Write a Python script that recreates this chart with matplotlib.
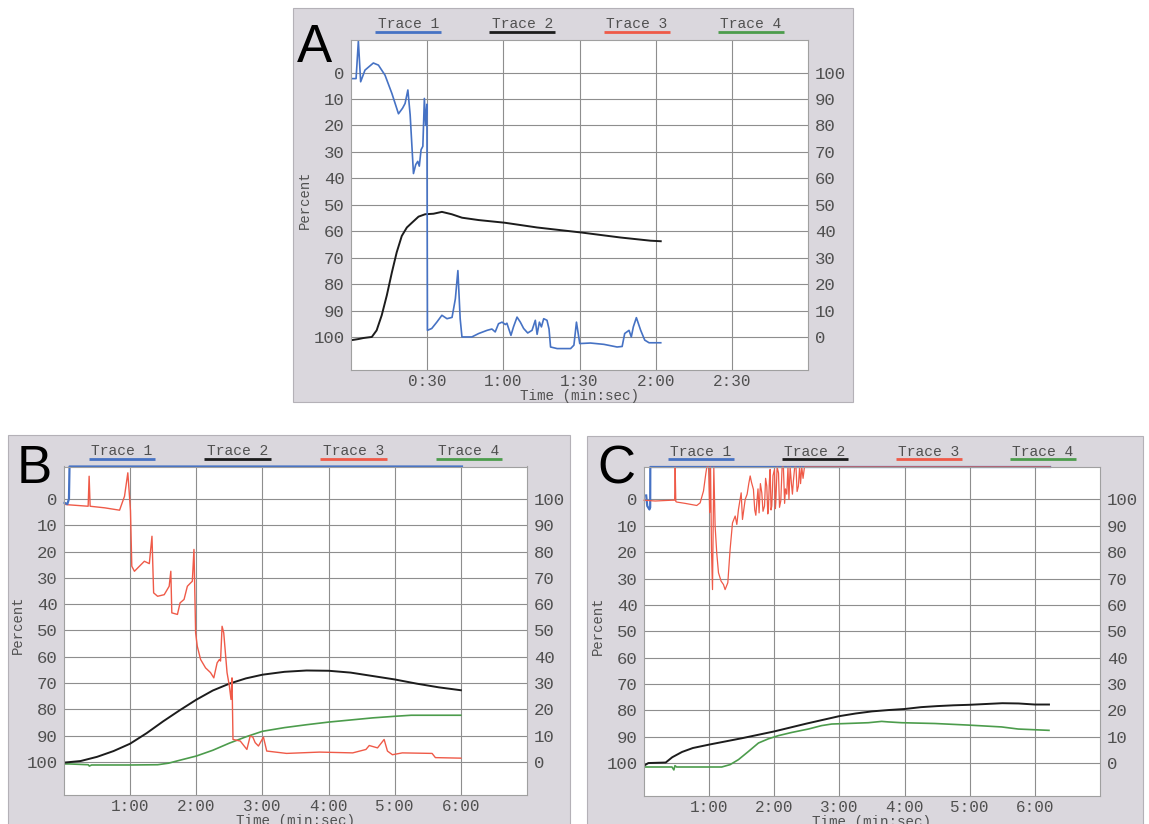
import matplotlib
matplotlib.use('Agg')
import matplotlib.pyplot as plt
from matplotlib.patches import Rectangle

W, H = 1149, 824
BG = '#dad7dd'
TXT = '#505050'
MONO = 'Liberation Mono'

trace_names = ['Trace 1', 'Trace 2', 'Trace 3', 'Trace 4']
trace_colors = ['#4672c4', '#1c1c1c', '#ef5a48', '#4c9c4c']

# ---- panel A (time in seconds, values on the left "Percent" scale) ----
a_ticks = [30, 60, 90, 120, 150]
a_ticklabels = ['0:30', '1:00', '1:30', '2:00', '2:30']

a_t1 = [0.5, 2.0, 2.9, 3.8, 5.5, 8.8, 10.8, 13.4, 16.1, 18.7, 20.3, 21.3, 22.4, 23.3,
        24.6, 25.5, 26.3, 26.9, 27.6, 28.3, 28.9, 29.4, 29.9, 30.1, 31.8, 33.8, 35.8,
        37.8, 39.8, 41.1, 42.1, 43.0, 43.7, 47.6, 50.3, 53.6, 55.5, 56.8, 58.1, 59.5,
        60.8, 61.4, 63.0, 64.0, 65.4, 66.7, 68.0, 69.6, 71.3, 72.6, 73.3, 74.2, 75.0,
        75.9, 77.2, 78.0, 78.6, 81.2, 86.5, 87.8, 88.8, 90.1, 94.3, 99.6, 104.8, 106.8,
        107.8, 109.5, 110.4, 111.2, 112.4, 114.1, 115.7, 117.4, 122.0]
a_v1 = [2.3, 2.3, -11.9, 3.5, -0.9, -3.6, -2.8, 1.0, 7.9, 15.6, 13.5, 11.7, 6.6, 16.0,
        38.2, 34.8, 33.6, 35.4, 29.2, 27.9, 9.8, 20.0, 12.0, 97.5, 96.8, 94.4, 91.8,
        93.1, 92.6, 85.6, 74.9, 93.1, 100.0, 100.0, 98.7, 97.5, 97.0, 98.1, 95.0, 94.4,
        95.3, 94.8, 99.4, 96.2, 92.5, 94.4, 96.8, 98.5, 97.5, 93.7, 99.0, 94.4, 96.2,
        93.1, 93.7, 97.0, 103.8, 104.4, 104.4, 103.1, 94.4, 102.5, 102.3, 102.8, 103.8, 103.6,
        98.7, 97.5, 100.0, 96.2, 92.7, 97.5, 101.2, 102.2, 102.2]

a_t2 = [0.3, 2.9, 4.9, 8.2, 10.1, 12.1, 14.1, 16.1, 18.0, 20.0, 22.0, 24.0, 26.6, 29.2,
        32.5, 35.8, 39.7, 43.7, 50.3, 60.5, 73.3, 90.7, 106.2, 118.0, 122.0]
a_v2 = [101.2, 100.8, 100.4, 100.0, 97.5, 91.8, 84.3, 75.6, 68.0, 61.8, 58.6, 56.8, 54.5,
        53.6, 53.4, 52.7, 53.6, 54.9, 55.8, 56.8, 58.6, 60.5, 62.4, 63.6, 63.8]

# ---- panel B ----
bc_ticks = [60, 120, 180, 240, 300, 360]
bc_ticklabels = ['1:00', '2:00', '3:00', '4:00', '5:00', '6:00']

b_t1 = [0.5, 3.0, 4.5, 5.0, 361]
b_v1 = [1.5, 2.0, 0.0, -12.3, -12.3]

b_t2 = [0, 15, 30, 45, 60, 75, 90, 105, 120, 135, 150, 165, 180, 200, 220, 240, 260,
        280, 300, 320, 340, 360]
b_v2 = [100.2, 99.6, 98.0, 95.8, 93.0, 89.0, 84.5, 80.3, 76.3, 72.8, 70.2, 68.2, 66.8,
        65.7, 65.2, 65.3, 66.0, 67.3, 68.6, 70.2, 71.6, 72.7]

b_t3 = [0, 2.4, 21.9, 22.8, 23.7, 36.9, 50.4, 54.9, 57.9, 59.4, 60.3, 61.5, 63.9, 68.4,
        72.9, 77.4, 79.8, 81.3, 84.9, 90.9, 95.4, 96.9, 97.8, 102.9, 105.3, 108.9, 111.9,
        114.9, 116.4, 117.9, 119.4, 120.9, 123.9, 128.4, 132.9, 135.9, 138.9, 141.0, 142.0,
        143.4, 144.9, 147.9, 150.0, 151.5, 152.4, 153.3, 159.9, 165.9, 168.9, 171.3, 173.4,
        176.4, 180.9, 183.9, 201.9, 231.9, 261.9, 273.9, 276.9, 284.4, 290.4, 293.4, 297.9,
        306.9, 333.9, 336.9, 360.0]
b_v3 = [2.0, 2.2, 2.8, -8.6, 2.8, 3.4, 4.3, -1.0, -9.9, -1.0, 4.5, 25.6, 27.5, 25.6,
        23.7, 24.6, 14.2, 35.7, 37.0, 36.4, 33.2, 27.5, 43.3, 43.9, 39.5, 38.2, 33.2,
        31.9, 31.3, 19.2, 50.9, 56.0, 61.0, 64.2, 66.0, 68.0, 62.3, 61.0, 61.6,
        48.4, 50.9, 66.0, 71.1, 76.2, 68.0, 91.4, 92.0, 95.2, 90.1, 90.5, 92.6,
        93.9, 90.5, 95.8, 96.7, 96.2, 96.5, 95.2, 93.7, 94.6, 91.4, 95.8, 97.2,
        96.5, 96.7, 98.3, 98.5]

b_t4 = [0, 5, 22, 23, 25, 60, 85, 95, 105, 120, 135, 150, 165, 180, 200, 220, 240, 260,
        280, 300, 315, 360]
b_v4 = [100.7, 100.7, 101.0, 101.5, 101.1, 101.1, 101.0, 100.4, 99.3, 97.7, 95.5, 92.8,
        90.4, 88.3, 86.9, 85.8, 84.8, 84.0, 83.2, 82.6, 82.2, 82.2]

# ---- panel C ----
c_t1 = [2.0, 3.0, 5.0, 5.7, 5.8, 374]
c_v1 = [-1.5, 2.5, 3.8, 3.0, -12.3, -12.3]

c_t2 = [0, 4, 20, 26, 35, 45, 60, 75, 90, 105, 120, 135, 150, 165, 180, 195, 210, 225,
        240, 255, 270, 285, 300, 315, 330, 345, 360, 373]
c_v2 = [101.0, 100.0, 99.8, 97.8, 95.8, 94.3, 93.0, 91.8, 90.6, 89.3, 88.0, 86.5, 85.0,
        83.6, 82.2, 81.2, 80.4, 79.9, 79.5, 78.8, 78.4, 78.1, 77.9, 77.6, 77.3, 77.4,
        77.8, 77.8]

c_t3 = [0, 10.3, 25.6, 28.2, 28.7, 29.3, 30.2, 37.9, 48.6, 51.7, 54.8, 57.0, 57.9, 59.5,
        60.5, 61.3, 62.2, 63.1, 64.3, 65.5, 67.0, 68.6, 71.0, 73.2, 74.7, 77.2, 79.3,
        81.5, 84.0, 85.5, 87.0, 89.5, 90.7, 93.2,
        95.0, 96.5, 97.8, 99.0, 100.8, 102.0, 103.0, 103.9, 105.0, 106.0, 107.2, 108.5,
        109.6, 111.0, 112.0, 113.1, 114.0, 114.6, 115.5, 116.2, 117.0, 117.7, 118.8, 120.2,
        121.0, 121.4, 122.6, 123.9, 124.8, 126.0, 127.2, 128.4, 129.5, 130.3, 131.5, 132.6,
        133.5, 134.6, 135.8, 136.7, 137.6, 138.8, 140.0, 141.0, 142.2, 143.3, 144.2, 145.3,
        146.5, 147.8, 150.0, 374]
c_v3 = [0.3, 0.6, 0.3, 0.3, -12.3, 0.8, 1.0, 1.5, 2.3, 1.3, -3.2, -10.0, -12.3, -12.3,
        5.0, -12.3, 20.0, 34.2, -12.3, 10.1, 20.3, 27.8, 31.0, 32.3, 34.2, 31.6, 19.0,
        8.9, 6.3, 9.5, 3.8, -2.5, 7.6, 0.0,
        -2.0, -6.0, -8.9, -6.5, -3.8, 4.0, 6.0, 1.3, -4.0, 5.1, -6.0, -2.5,
        4.5, 2.5, -8.0, -5.0, 5.5, 3.8, -7.0, -11.4, 4.0, 2.5, -9.0, -11.4,
        3.5, 1.3, -12.3, -10.0, 3.0, 0.5, -12.3, -12.3, 1.5, -4.0, -2.0, -12.3,
        0.0, -12.3, -6.0, -2.0, -7.0, -12.3, -12.3, -3.0, -5.0, -12.3, -6.0, -12.3,
        -8.0, -12.3, -12.3, -12.3]

c_t4 = [1, 25.8, 27.5, 28.5, 30, 71.6, 79.3, 87, 96.2, 105.4, 114.6, 123.8, 136, 151.4,
        163.6, 172.9, 206.6, 218.9, 225, 237.3, 268, 298.7, 329.3, 344.7, 373]
c_v4 = [101.5, 101.5, 102.6, 101.0, 101.5, 101.5, 100.6, 98.7, 95.6, 92.4, 90.8, 89.6,
        88.4, 87.1, 85.8, 85.2, 84.7, 84.2, 84.4, 84.7, 85.0, 85.6, 86.3, 87.1, 87.6]


def px_axes(fig, x0, y0, x1, y1):
    return fig.add_axes([x0 / W, 1 - y1 / H, (x1 - x0) / W, (y1 - y0) / H])


def make_panel(fig, box, rect, xmax, ticks, ticklabels, letter, letter_pos):
    fig.patches.append(Rectangle((box[0] / W, 1 - box[3] / H), (box[2] - box[0]) / W,
                                 (box[3] - box[1]) / H, transform=fig.transFigure,
                                 facecolor=BG, edgecolor='#b4b1b7', lw=0.8, zorder=-1))
    ax = px_axes(fig, *rect)
    h_px = rect[3] - rect[1]
    ax.set_facecolor('white')
    ax.set_xlim(0, xmax)
    ax.set_ylim(112.5, -12.3)
    ax.set_yticks(range(0, 101, 10))
    ax.set_yticklabels([str(v) for v in range(0, 101, 10)], family=MONO)
    ax.set_xticks(ticks)
    ax.set_xticklabels(ticklabels, family=MONO)
    ax.grid(True, color='#8e8e8e', lw=0.8)
    ax.tick_params(length=0, colors=TXT)
    ax.tick_params(axis='y', labelsize=12.5, pad=4.5)
    ax.tick_params(axis='x', labelsize=11.5, pad=3)
    for s in ax.spines.values():
        s.set_color('#a0a0a0')
        s.set_linewidth(0.8)

    tw = ax.twinx()
    tw.set_ylim(ax.get_ylim())
    tw.set_yticks(range(0, 101, 10))
    tw.set_yticklabels([str(100 - v) for v in range(0, 101, 10)], family=MONO)
    tw.tick_params(length=0, colors=TXT, labelsize=12.5, pad=5)
    for s in tw.spines.values():
        s.set_visible(False)

    for k, (name, col) in enumerate(zip(trace_names, trace_colors)):
        fx = 0.125 + 0.25 * k
        ax.text(fx, 1 + 15.5 / h_px, name, transform=ax.transAxes, ha='center',
                va='center', fontsize=10.5, color=TXT, family=MONO)
        ax.plot([fx - 0.072, fx + 0.072], [1 + 8 / h_px] * 2, transform=ax.transAxes,
                color=col, lw=2, clip_on=False, solid_capstyle='butt')

    ax.text(0.5, -26 / h_px, 'Time (min:sec)', transform=ax.transAxes, ha='center',
            va='center', fontsize=10.3, color=TXT, family=MONO)
    ax.text(-46 / (rect[2] - rect[0]), 0.517, 'Percent', transform=ax.transAxes,
            ha='center', va='center', rotation=90, fontsize=10, color=TXT, family=MONO)

    fig.text(letter_pos[0] / W, 1 - letter_pos[1] / H, letter, fontsize=38,
             family='Liberation Sans', color='black', ha='left', va='baseline')
    return ax


fig = plt.figure(figsize=(W / 100, H / 100), dpi=100)

ax = make_panel(fig, (293, 8, 853, 402), (351, 40, 808, 370), 180, a_ticks, a_ticklabels,
                'A', (297, 62))
ax.plot(a_t2, a_v2, color=trace_colors[1], lw=1.4)
ax.plot(a_t1, a_v1, color=trace_colors[0], lw=1.2)

ax = make_panel(fig, (8, 435, 570, 830), (64, 466.5, 527, 795), 420, bc_ticks,
                bc_ticklabels, 'B', (17, 483))
ax.plot(b_t4, b_v4, color=trace_colors[3], lw=1.2)
ax.plot(b_t2, b_v2, color=trace_colors[1], lw=1.4)
ax.plot(b_t3, b_v3, color=trace_colors[2], lw=1.0)
ax.plot(b_t1, b_v1, color=trace_colors[0], lw=1.6, clip_on=False)

ax = make_panel(fig, (587, 436, 1143, 830), (644, 467, 1100, 796), 420, bc_ticks,
                bc_ticklabels, 'C', (597, 484))
ax.plot(c_t4, c_v4, color=trace_colors[3], lw=1.2)
ax.plot(c_t2, c_v2, color=trace_colors[1], lw=1.4)
ax.plot(c_t1, c_v1, color=trace_colors[0], lw=1.6, clip_on=False)
ax.plot(c_t3, c_v3, color=trace_colors[2], lw=0.9, clip_on=False)

fig.savefig('out.png', dpi=100)
